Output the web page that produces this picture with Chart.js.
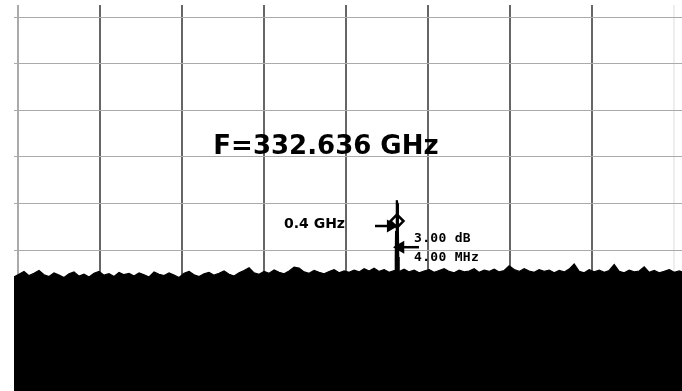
<!DOCTYPE html>
<html>
<head>
<meta charset="utf-8">
<script src="https://cdn.jsdelivr.net/npm/chart.js@4/dist/chart.umd.min.js"></script>
<style>
  html, body { margin: 0; padding: 0; background: #fff; }
  #wrap { width: 682px; height: 391px; position: relative; }
</style>
</head>
<body>
<div id="wrap"><canvas id="espectro"></canvas></div>
<script>
// x en divisiones de pantalla, y en dBm (10 dB/div)
const noiseStart = -0.0488;
const noiseStep = 0.061;
const noiseDb = [
  -75.8,-75.2,-74.6,-75.5,-75.0,-74.4,-75.3,-75.7,-74.9,-75.4,-75.9,-75.1,-74.7,-75.6,-75.2,-75.8,-75.0,-74.6,-75.4,-75.1,-75.7,-74.8,-75.3,
  -75.0,-75.6,-74.9,-75.3,-75.8,-74.7,-75.2,-75.5,-74.9,-75.4,-75.9,-75.0,-74.6,-75.3,-75.7,-75.1,-74.8,-75.4,-75.0,-74.5,-75.2,-75.6,-74.9,
  -74.4,-73.8,-74.9,-75.2,-74.6,-75.0,-74.3,-74.8,-75.1,-74.5,-73.7,-73.9,-74.7,-75.0,-74.4,-74.8,-75.1,-74.6,-74.2,-74.9,-74.5,-74.8,
  -74.3,-74.7,-74.0,-74.5,-73.9,-74.6,-74.2,-74.8,-74.4,-74.6,-74.1,-74.7,-74.3,-74.9,-74.5,-74.2,-74.8,-74.4,-74.0,-74.6,-74.9,-74.3,-74.7,
  -74.5,-74.0,-74.8,-74.3,-74.6,-74.1,-74.7,-74.4,-73.4,-74.2,-74.6,-74.0,-74.5,-74.8,-74.2,-74.6,-74.3,-74.9,-74.4,-74.7,-74.1,-73.0,-74.6,
  -74.9,-74.2,-74.7,-74.3,-74.8,-74.4,-73.1,-74.6,-74.9,-74.3,-74.7,-74.5,-73.6,-74.8,-74.4,-74.9,-74.6,-74.2,-74.8,-74.5,-74.9,-74.7
];

// pico de la señal
const peakX  = [4.600, 4.606, 4.610, 4.616, 4.622, 4.628, 4.634, 4.638, 4.644];
const peakDb = [-74.6, -71.5, -66.0, -60.0, -59.3, -60.0, -66.0, -71.5, -74.6];

// marcador (rombo)
const markerX = [4.622];
const markerDb = [-63.8];

// flechas
const arrowFreqX = [4.354, 4.545];
const arrowFreqDb = [-64.85, -64.85];
const arrowBwX = [4.890, 4.665];
const arrowBwDb = [-69.4, -69.4];

// textos
const labels = ['F=332.636 GHz', '0.4 GHz', '3.00 dB', '4.00 MHz'];
const labelX = [3.756, 3.988, 4.830, 4.830];
const labelDb = [-47.9, -64.4, -67.6, -71.7];

const noisePts = noiseDb.map((v, i) => ({ x: noiseStart + i * noiseStep, y: v }));
const peakPts = peakX.map((x, i) => ({ x: x, y: peakDb[i] }));

const textos = {
  id: 'textos',
  afterDatasetsDraw(chart) {
    const { ctx, scales } = chart;
    const estilos = [
      { font: 'bold 26px "DejaVu Sans"', align: 'center', ls: '0px' },
      { font: 'bold 14px "DejaVu Sans"', align: 'right', ls: '0px' },
      { font: 'bold 13px "DejaVu Sans Mono"', align: 'left', ls: '0.3px' },
      { font: 'bold 13px "DejaVu Sans Mono"', align: 'left', ls: '0.3px' }
    ];
    ctx.save();
    ctx.fillStyle = '#000';
    ctx.textBaseline = 'middle';
    labels.forEach((t, i) => {
      ctx.font = estilos[i].font;
      ctx.textAlign = estilos[i].align;
      ctx.letterSpacing = estilos[i].ls;
      ctx.fillText(t, scales.x.getPixelForValue(labelX[i]), scales.y.getPixelForValue(labelDb[i]));
    });
    ctx.restore();
  }
};

new Chart(document.getElementById('espectro'), {
  type: 'line',
  data: {
    datasets: [
      {
        data: noisePts, borderColor: '#000', borderWidth: 1.2, pointRadius: 0,
        fill: 'start', backgroundColor: '#000', tension: 0
      },
      {
        data: peakPts, borderColor: '#000', borderWidth: 2, pointRadius: 0,
        borderJoinStyle: 'bevel',
        fill: 'start', backgroundColor: '#000', tension: 0
      },
      {
        data: arrowFreqX.map((x, i) => ({ x: x, y: arrowFreqDb[i] })),
        borderColor: '#000', borderWidth: 2.5, fill: false,
        pointStyle: 'triangle', pointRadius: [0, 5], pointRotation: [0, 90],
        pointBackgroundColor: '#000', pointBorderColor: '#000'
      },
      {
        data: arrowBwX.map((x, i) => ({ x: x, y: arrowBwDb[i] })),
        borderColor: '#000', borderWidth: 2.5, fill: false,
        pointStyle: 'triangle', pointRadius: [0, 5], pointRotation: [0, -90],
        pointBackgroundColor: '#000', pointBorderColor: '#000'
      },
      {
        type: 'scatter',
        data: markerX.map((x, i) => ({ x: x, y: markerDb[i] })),
        pointStyle: 'rectRot', pointRadius: 6.5, borderWidth: 2.5,
        pointBackgroundColor: '#fff', pointBorderColor: '#000'
      }
    ]
  },
  options: {
    responsive: true,
    maintainAspectRatio: false,
    animation: false,
    layout: { autoPadding: false, padding: { left: 14, top: 5, right: 0, bottom: 0 } },
    plugins: { legend: { display: false }, tooltip: { enabled: false } },
    scales: {
      x: {
        type: 'linear', min: -0.0488, max: 8.098,
        ticks: { display: false, stepSize: 1, includeBounds: false },
        grid: {
          // la primera línea sale más clara en la foto y la última casi no se ve
          color: (c) => c.tick && c.tick.value === 0 ? '#aaa' : (c.tick && c.tick.value === 8 ? '#eee' : '#666'),
          lineWidth: 2, drawTicks: false
        },
        border: { display: false }
      },
      y: {
        min: -100.26, max: -17.42,
        ticks: { display: false, stepSize: 10, includeBounds: false },
        grid: { color: '#aaa', lineWidth: 1, drawTicks: false },
        border: { display: false }
      }
    }
  },
  plugins: [textos]
});
</script>
</body>
</html>
